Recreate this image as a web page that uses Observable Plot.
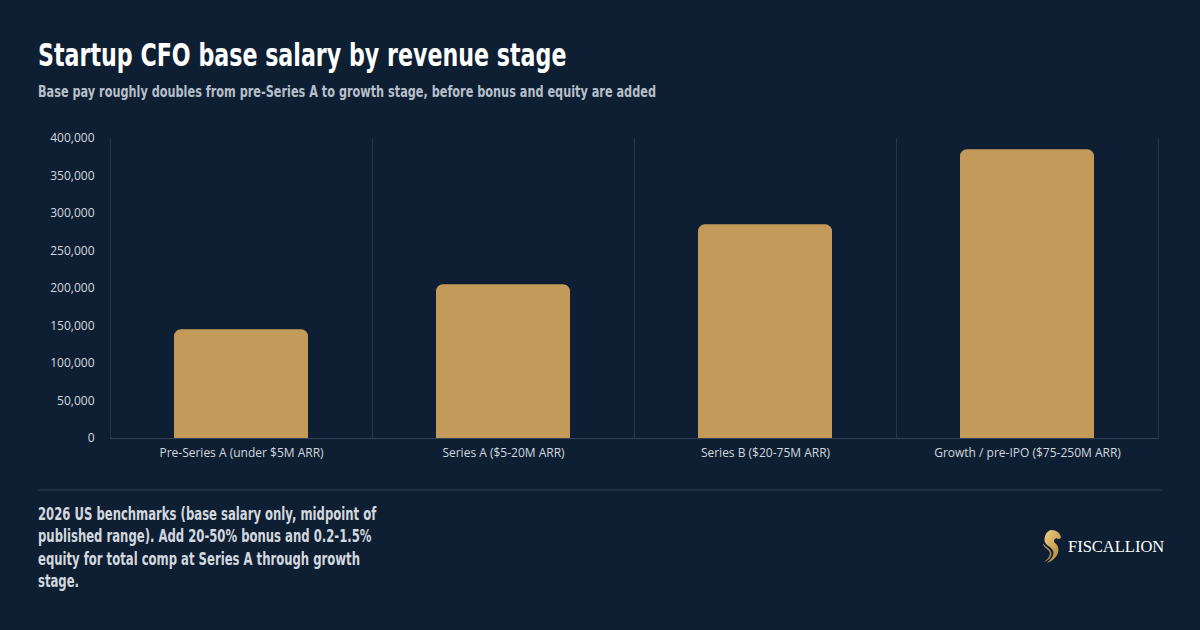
<!DOCTYPE html>
<html>
<head>
<meta charset="utf-8">
<script src="https://cdn.jsdelivr.net/npm/d3@7"></script>
<script src="https://cdn.jsdelivr.net/npm/@observablehq/plot@0.6"></script>
<style>
  html, body { margin: 0; padding: 0; }
  body {
    width: 1200px; height: 630px; position: relative; overflow: hidden;
    background: #0e1f33; font-family: "Open Sans", "Noto Sans", sans-serif;
  }
  .cond {
    font-family: "DejaVu Sans Condensed", "DejaVu Sans", sans-serif; font-weight: 700;
    transform-origin: 0 0; white-space: nowrap;
  }
  #title { position: absolute; left: 38px; top: 36px; font-size: 32px; line-height: 38px; color: #ffffff; transform: scaleX(0.77); }
  #subtitle { position: absolute; left: 38px; top: 82px; font-size: 16.5px; line-height: 20px; color: #b7bfca; transform: scaleX(0.76); }
  #chart { position: absolute; left: 0; top: 120px; }
  #rule { position: absolute; left: 38px; top: 489px; width: 1124px; height: 2px; background: #1f3044; }
  #note { position: absolute; left: 38px; top: 503px; font-size: 17.5px; line-height: 22.3px; color: #d3d8df; transform: scaleX(0.74); }
  #brand { position: absolute; left: 1040px; top: 529px; display: flex; align-items: center; }
  #brand span { font-family: "Liberation Serif", "DejaVu Serif", serif; font-size: 16.5px; color: #ffffff; margin-left: 5px; letter-spacing: 0; }
</style>
</head>
<body>
<div id="title" class="cond">Startup CFO base salary by revenue stage</div>
<div id="subtitle" class="cond">Base pay roughly doubles from pre-Series A to growth stage, before bonus and equity are added</div>
<div id="chart"></div>
<div id="rule"></div>
<div id="note" class="cond">2026 US benchmarks (base salary only, midpoint of<br>published range). Add 20-50% bonus and 0.2-1.5%<br>equity for total comp at Series A through growth<br>stage.</div>
<div id="brand">
  <svg width="23" height="35" viewBox="0 0 24 34" preserveAspectRatio="none">
    <defs>
      <linearGradient id="gold" x1="0" y1="0" x2="1" y2="1">
        <stop offset="0" stop-color="#f0d08a"/>
        <stop offset="1" stop-color="#b07f30"/>
      </linearGradient>
    </defs>
    <path fill="url(#gold)" d="M12 1 C17 1 21 4 22 8 L20 10 L17 9 C15 10 14 11 15 13 C18 15 20 18 19 22 C18 27 13 31 7 33 C11 30 14 27 14 23 C14 20 11 18 8 16 C5 14 4 11 5 8 C6 4 9 1 12 1 Z"/>
    <path fill="url(#gold)" d="M3 14 C4 18 8 19 10 22 C11 25 9 29 4 32 C8 31 12 28 12 24 C12 21 9 19 6 17 Z" opacity="0.9"/>
  </svg>
  <span>FISCALLION</span>
</div>
<script>
// Revenue stages and midpoint base salary (USD)
const stages = [
  "Pre-Series A (under $5M ARR)",
  "Series A ($5-20M ARR)",
  "Series B ($20-75M ARR)",
  "Growth / pre-IPO ($75-250M ARR)"
];
const salaries = [145000, 205000, 285000, 385000];
const yTicks = [0, 50000, 100000, 150000, 200000, 250000, 300000, 350000, 400000];

const rows = stages.map((stage, i) => ({stage, salary: salaries[i]}));

const gridColor = "#243548";

const chart = Plot.plot({
  width: 1200,
  height: 350,
  marginTop: 18,
  marginLeft: 110,
  marginRight: 42,
  marginBottom: 32,
  style: {
    background: "transparent",
    color: "#d3d8df",
    fontFamily: "'Open Sans', 'Noto Sans', sans-serif",
    fontSize: "12px"
  },
  fx: {domain: stages, padding: 0, label: null, axis: "bottom", tickSize: 0, tickPadding: 10},
  y: {domain: [0, 400000], ticks: yTicks, tickFormat: d3.format(","), label: null, tickSize: 0, tickPadding: 16},
  marks: [
    // band boundaries drawn as the left/right edges of each stage's facet
    Plot.frame({anchor: "left", stroke: gridColor}),
    Plot.frame({anchor: "right", stroke: gridColor}),
    Plot.barY(rows, {fx: "stage", y: "salary", fill: "#c49a5a", insetLeft: 64, insetRight: 64, ry1: 7}),
    Plot.ruleY([0], {stroke: "#34455a"})
  ]
});
document.getElementById("chart").appendChild(chart);
</script>
</body>
</html>
